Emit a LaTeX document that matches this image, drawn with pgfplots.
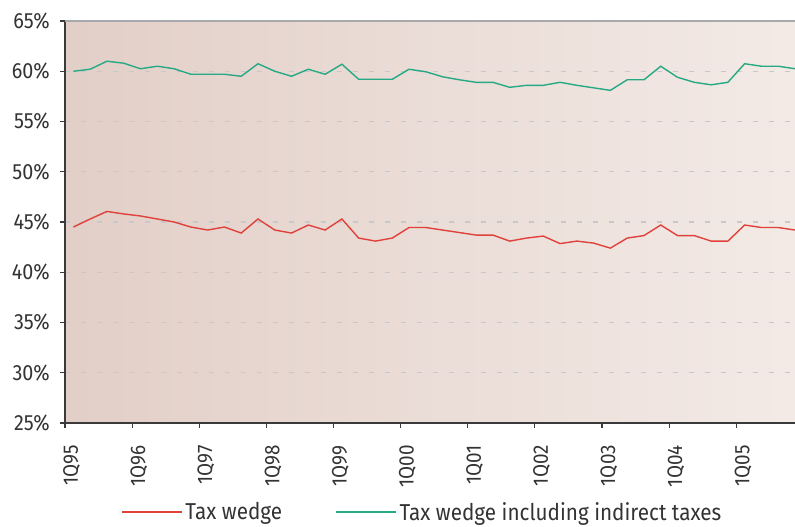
\documentclass[border=0pt]{standalone}
\usepackage{fontspec}
\setmainfont{Fira Sans}[FakeStretch=0.9]
\usepackage{graphicx}
\usepackage{pgfplots}
\pgfplotsset{compat=1.18}
\definecolor{txt}{HTML}{333333}
\definecolor{redl}{HTML}{E0413B}
\definecolor{greenl}{HTML}{27A985}
\definecolor{bgl}{RGB}{226,207,199}
\definecolor{bgr}{RGB}{243,234,230}
\definecolor{gridc}{HTML}{C6C8CC}
\definecolor{axl}{HTML}{3A3A3A}
\definecolor{topl}{HTML}{A8A9AD}
\newcommand{\xl}[1]{{\fontsize{21}{21}\selectfont\color{txt}\rotatebox{90}{#1\kern17pt}}}
\begin{document}
\begin{tikzpicture}
\path[use as bounding box] (0,0) rectangle (795pt,527pt);
\begin{axis}[
  at={(65pt,104pt)}, anchor=south west,
  scale only axis, width=730pt, height=402pt,
  xmin=-0.5, xmax=43, ymin=25, ymax=65,
  axis lines*=left,
  axis line style={axl, line width=1.2pt},
  axis background/.style={left color=bgl, right color=bgr},
  ytick={25,30,...,65},
  yticklabels={25\%,30\%,35\%,40\%,45\%,50\%,55\%,60\%,65\%},
  xtick={-0.1,3.9,7.9,11.9,15.9,19.9,23.9,27.9,31.9,35.9,39.9},
  xticklabels={\xl{1Q95},\xl{1Q96},\xl{1Q97},\xl{1Q98},\xl{1Q99},\xl{1Q00},\xl{1Q01},\xl{1Q02},\xl{1Q03},\xl{1Q04},\xl{1Q05}},
  minor xtick={-0.5,3.5,7.5,11.5,15.5,19.5,23.5,27.5,31.5,35.5,39.5},
  xtick style={draw=none},
  minor x tick style={draw=axl, line width=1.2pt},
  x tick label style={anchor=north, inner sep=0pt},
  tick align=outside,
  major tick length=5pt,
  minor tick length=5pt,
  tick style={axl, line width=1.2pt},
  y tick label style={font=\fontsize{22}{22}\selectfont, text=txt, inner sep=0pt, xshift=-10pt},
  ymajorgrids,
  major grid style={gridc, line width=1.3pt, dash pattern=on 5pt off 11pt},
  legend columns=2,
  legend cell align=left,
  legend style={at={(axis description cs:0.49,-0.221)}, anchor=center, draw=none, fill=none,
    font=\fontsize{23}{23}\selectfont, text=txt,
    /tikz/every even column/.append style={column sep=50pt},
    nodes={inner sep=3pt}},
  legend image code/.code={\draw[#1] (0pt,0pt) -- (60pt,0pt);},
]
\addplot[redl, line width=1.4pt, mark=none] coordinates {
(0,44.5) (1,45.3) (2,46.05) (3,45.8) (4,45.6) (5,45.3) (6,45.0) (7,44.5) (8,44.2) (9,44.5)
(10,43.9) (11,45.3) (12,44.2) (13,43.9) (14,44.7) (15,44.2) (16,45.3) (17,43.4) (18,43.1) (19,43.4)
(20,44.45) (21,44.45) (22,44.2) (23,43.95) (24,43.7) (25,43.7) (26,43.1) (27,43.4) (28,43.6) (29,42.85)
(30,43.1) (31,42.9) (32,42.4) (33,43.4) (34,43.65) (35,44.7) (36,43.65) (37,43.65) (38,43.1) (39,43.1)
(40,44.7) (41,44.45) (42,44.45) (43,44.2)
};
\addlegendentry{Tax wedge}
\addplot[greenl, line width=1.4pt, mark=none] coordinates {
(0,60.0) (1,60.2) (2,61.0) (3,60.8) (4,60.25) (5,60.5) (6,60.25) (7,59.7) (8,59.7) (9,59.7)
(10,59.5) (11,60.75) (12,60.0) (13,59.5) (14,60.2) (15,59.7) (16,60.7) (17,59.2) (18,59.2) (19,59.2)
(20,60.2) (21,59.95) (22,59.45) (23,59.15) (24,58.9) (25,58.9) (26,58.4) (27,58.6) (28,58.6) (29,58.9)
(30,58.6) (31,58.35) (32,58.1) (33,59.15) (34,59.15) (35,60.5) (36,59.4) (37,58.9) (38,58.65) (39,58.9)
(40,60.75) (41,60.5) (42,60.5) (43,60.25)
};
\addlegendentry{Tax wedge including indirect taxes}
\draw[topl, line width=1.6pt] (rel axis cs:0,1) -- (rel axis cs:1,1);
\end{axis}
\end{tikzpicture}
\end{document}
